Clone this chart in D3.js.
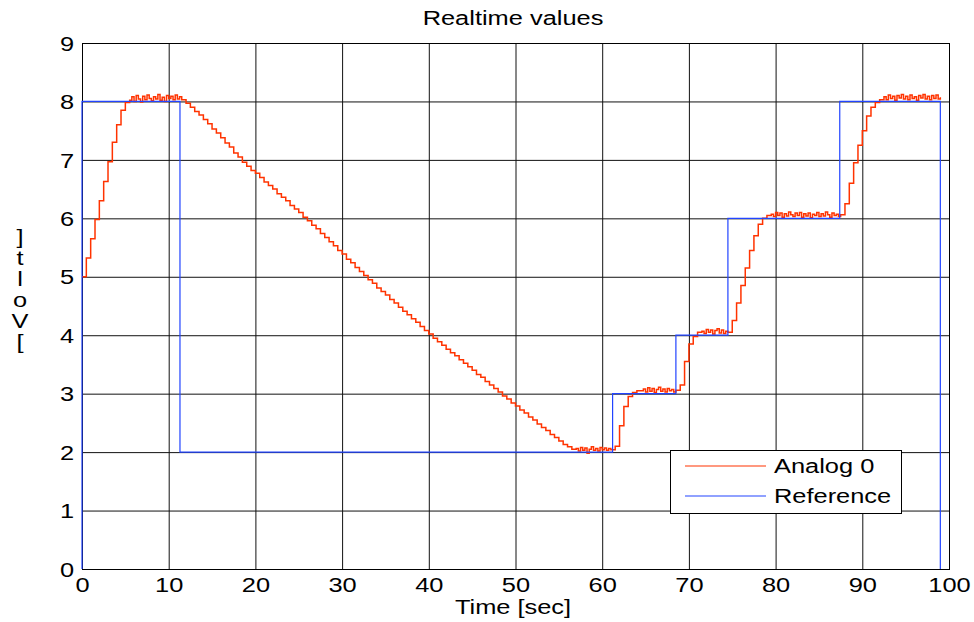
<!DOCTYPE html>
<html>
<head>
<meta charset="utf-8">
<script src="https://cdn.jsdelivr.net/npm/d3@7"></script>
<style>
  body { margin: 0; background: #fff; }
  text { font-family: "Liberation Sans", Arial, sans-serif; fill: #000; }
</style>
</head>
<body>
<script>
// Data
const xTicks = [0, 10, 20, 30, 40, 50, 60, 70, 80, 90, 100]
const yTicks = [0, 1, 2, 3, 4, 5, 6, 7, 8, 9]

// Reference: step times [sec] and levels [Volt]
const refTimes = [0, 0, 11.3, 61.2, 68.5, 74.5, 87.4, 99.0]
const refValues = [0, 8, 2, 3, 4, 6, 8, 0]

// Analog 0 samples, in pieces (start time, sample step, values)
const analogStartup = [5.00, 5.32, 5.65, 5.98, 6.30, 6.63, 6.97, 7.30, 7.60, 7.85, 7.98]
const analogHold8a = [8.02, 8.08, 8.00, 8.10, 8.04, 7.99, 8.09, 8.03, 8.11, 8.05, 8.01, 8.08, 8.04,
  8.12, 8.02, 8.07, 8.00, 8.10, 8.05, 8.09, 8.03, 8.11, 8.04, 8.08, 8.03]
const analogRampDown = [
  7.97, 7.90, 7.83, 7.77, 7.69, 7.62, 7.53, 7.46, 7.38, 7.29, 7.22, 7.12, 7.05, 6.96,
  6.89, 6.82, 6.77, 6.70, 6.62, 6.56, 6.50, 6.42, 6.36, 6.30, 6.22, 6.16, 6.10, 6.02, 5.96,
  5.88, 5.82, 5.74, 5.67, 5.60, 5.53, 5.45, 5.39, 5.30, 5.24, 5.16, 5.09, 5.02,
  4.95, 4.89, 4.81, 4.75, 4.69, 4.61, 4.55, 4.48, 4.41, 4.35, 4.28, 4.22, 4.15, 4.08, 4.02,
  3.95, 3.89, 3.83, 3.76, 3.70, 3.65, 3.58, 3.52, 3.46, 3.40, 3.33, 3.28, 3.21, 3.15, 3.09, 3.03,
  2.96, 2.91, 2.84, 2.79, 2.72, 2.67, 2.60, 2.55, 2.48, 2.42, 2.37, 2.30, 2.25, 2.19, 2.13, 2.09, 2.05]
const analogHold2 = [2.06, 2.02, 2.08, 2.03, 2.07, 1.98, 2.05, 2.09, 2.03, 2.06, 2.02, 2.08, 2.04,
  2.07, 2.03, 2.06, 2.04]
const analogRise3 = [2.10, 2.45, 2.78, 2.95, 3.02, 3.05]
const analogHold3 = [3.05, 3.08, 3.03, 3.10, 3.04, 3.09, 3.02, 3.07, 3.11, 3.04, 3.08, 3.03, 3.09,
  3.05, 3.07, 3.03, 3.06]
const analogRise4 = [3.15, 3.55, 3.85, 3.98, 4.05]
const analogHold4 = [4.07, 4.03, 4.10, 4.05, 4.09, 4.02, 4.08, 4.11, 4.04, 4.09, 4.03, 4.07, 4.05]
const analogRise6 = [4.25, 4.55, 4.85, 5.15, 5.45, 5.70, 5.90, 6.00, 6.05]
const analogHold6 = [6.07, 6.03, 6.10, 6.05, 6.09, 6.02, 6.08, 6.04, 6.11, 6.06,
  6.03, 6.09, 6.05, 6.10, 6.02, 6.08, 6.04, 6.09, 6.01, 6.07,
  6.05, 6.10, 6.03, 6.08, 6.04, 6.11, 6.06, 6.02, 6.09, 6.05, 6.07, 6.03, 6.06]
const analogRise8 = [6.25, 6.60, 6.95, 7.25, 7.50, 7.75, 7.90, 7.98, 8.03]
const analogHold8b = [8.08, 8.03, 8.11, 8.05, 8.09, 8.02, 8.10, 8.06, 8.12, 8.04,
  8.09, 8.03, 8.11, 8.05, 8.08, 8.02, 8.10, 8.06, 8.12, 8.04,
  8.09, 8.03, 8.10, 8.05, 8.11, 8.04, 8.07]

const analogPieces = [
  [0, 0.5, analogStartup],
  [5.5, 0.25, analogHold8a],
  [12, 0.5, analogRampDown],
  [57, 0.25, analogHold2],
  [61.5, 0.5, analogRise3],
  [64.5, 0.25, analogHold3],
  [69, 0.5, analogRise4],
  [71.5, 0.25, analogHold4],
  [75, 0.5, analogRise6],
  [79.5, 0.25, analogHold6],
  [88, 0.5, analogRise8],
  [92.5, 0.25, analogHold8b]
]

const analog = analogPieces.flatMap(([t0, dt, vals]) => vals.map((v, i) => ({ t: t0 + i * dt, v })))
const reference = refTimes.map((t, i) => ({ t, v: refValues[i] }))

// Step-1: SVG
const W = 974, H = 622
const svg = d3.select('body').append('svg')
  .attr('width', W)
  .attr('height', H)

const x = d3.scaleLinear().domain([0, 100]).range([82, 949])
const y = d3.scaleLinear().domain([0, 9]).range([569, 43])
const sx = 1.27 // text in the picture is stretched sideways

// Grid + tick labels
const gx = svg.append('g')
  .attr('transform', `translate(0,${y(0)})`)
  .call(d3.axisBottom(x).tickValues(xTicks).tickSize(-(y(0) - y(9))).tickFormat(d3.format('d')))
gx.select('.domain').remove()
gx.selectAll('line').attr('stroke', '#111')
gx.selectAll('text')
  .attr('y', 23).attr('dy', null)
  .attr('font-size', 20)
  .attr('transform', `scale(${sx},1)`)

const gy = svg.append('g')
  .attr('transform', `translate(${x(0)},0)`)
  .call(d3.axisLeft(y).tickValues(yTicks).tickSize(-(x(100) - x(0))).tickFormat(d3.format('d')))
gy.select('.domain').remove()
gy.selectAll('line').attr('stroke', '#111')
gy.selectAll('text')
  .attr('x', -8 / sx).attr('dy', '0.36em')
  .attr('font-size', 20)
  .attr('transform', `scale(${sx},1)`)
svg.selectAll('.tick text').attr('fill', '#000').attr('font-family', '"Liberation Sans", Arial, sans-serif')

// Frame
svg.append('rect')
  .attr('x', Math.round(x(0)) + 0.5).attr('y', Math.round(y(9)) + 0.5)
  .attr('width', Math.round(x(100) - x(0))).attr('height', Math.round(y(0) - y(9)))
  .attr('fill', 'none').attr('stroke', '#000')

// Lines
const line = d3.line()
  .x(d => x(d.t))
  .y(d => y(d.v))
  .curve(d3.curveStepAfter)

svg.append('path')
  .datum(analog)
  .attr('d', line)
  .attr('fill', 'none')
  .attr('stroke', '#ff3300')
  .attr('stroke-width', 1.5)

svg.append('path')
  .datum(reference)
  .attr('d', line)
  .attr('fill', 'none')
  .attr('stroke', '#2244ff')
  .attr('stroke-width', 1.2)

// Texts
function stretched(tx, ty, str, anchor) {
  return svg.append('text')
    .attr('transform', `translate(${tx},${ty}) scale(${sx},1)`)
    .attr('text-anchor', anchor || 'start')
    .attr('font-size', 20)
    .text(str)
}
stretched(513, 25, 'Realtime values', 'middle')
stretched(513, 614, 'Time [sec]', 'middle')

// y label: "[Volt]" stacked bottom-to-top
const yLabel = [']', 't', 'l', 'o', 'V', '[']
yLabel.forEach((c, i) => stretched(20, 244 + i * 21, c, 'middle'))

// Legend
const lg = svg.append('g')
lg.append('rect')
  .attr('x', 670.5).attr('y', 450.5).attr('width', 231).attr('height', 63)
  .attr('fill', '#fff').attr('stroke', '#000')
const legendItems = [['Analog 0', '#ff3300'], ['Reference', '#2244ff']]
legendItems.forEach(([name, col], i) => {
  lg.append('line')
    .attr('x1', 685).attr('x2', 766)
    .attr('y1', 466 + i * 30).attr('y2', 466 + i * 30)
    .attr('stroke', col).attr('stroke-width', 1.2)
  stretched(774, 473 + i * 30, name)
})
</script>
</body>
</html>
